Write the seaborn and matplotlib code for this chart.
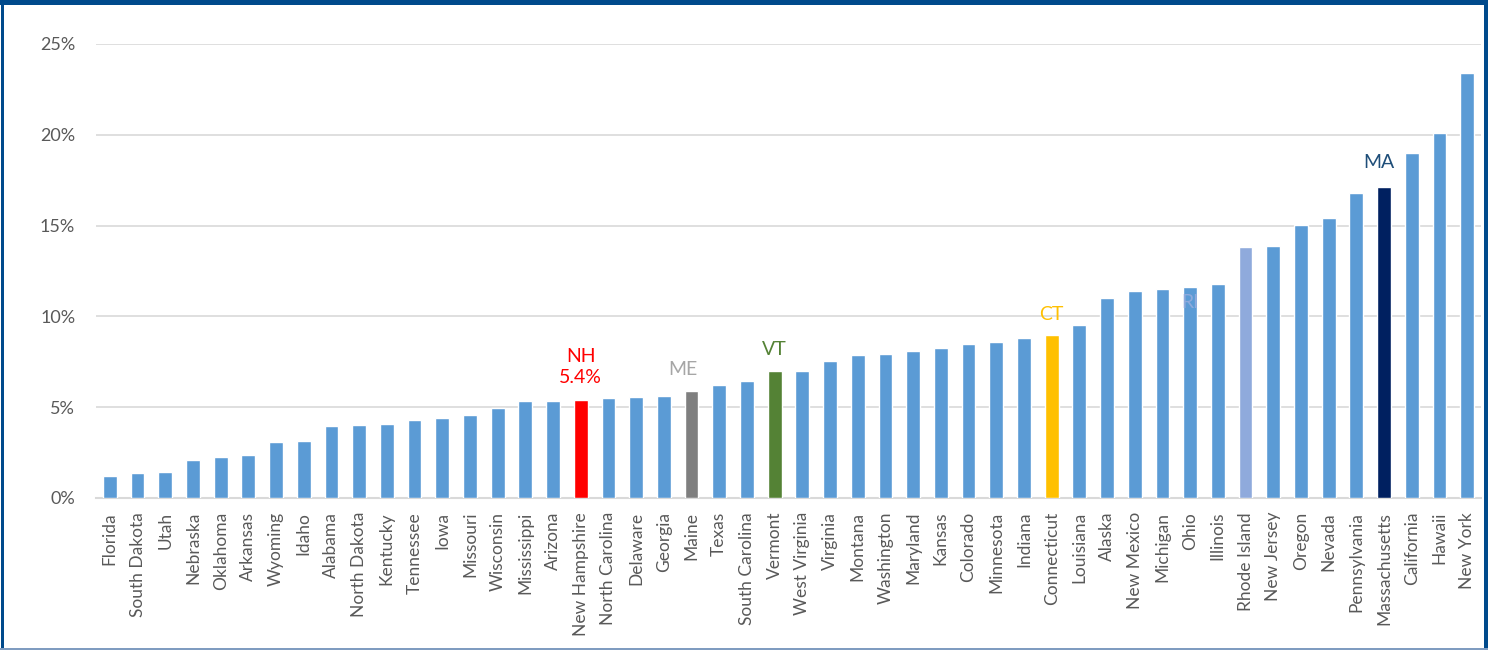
import matplotlib
matplotlib.use("Agg")
import matplotlib.pyplot as plt
import seaborn as sns
import pandas as pd
from matplotlib.patches import Rectangle
from matplotlib.ticker import FuncFormatter

states = ["Florida", "South Dakota", "Utah", "Nebraska", "Oklahoma", "Arkansas", "Wyoming",
          "Idaho", "Alabama", "North Dakota", "Kentucky", "Tennessee", "Iowa", "Missouri",
          "Wisconsin", "Mississippi", "Arizona", "New Hampshire", "North Carolina", "Delaware",
          "Georgia", "Maine", "Texas", "South Carolina", "Vermont", "West Virginia", "Virginia",
          "Montana", "Washington", "Maryland", "Kansas", "Colorado", "Minnesota", "Indiana",
          "Connecticut", "Louisiana", "Alaska", "New Mexico", "Michigan", "Ohio", "Illinois",
          "Rhode Island", "New Jersey", "Oregon", "Nevada", "Pennsylvania", "Massachusetts",
          "California", "Hawaii", "New York"]
values = [1.2, 1.4, 1.45, 2.1, 2.25, 2.35, 3.1, 3.15, 3.95, 4.0, 4.05, 4.3, 4.4, 4.55,
          4.95, 5.35, 5.35, 5.4, 5.5, 5.55, 5.6, 5.9, 6.2, 6.45, 7.0, 7.0, 7.55,
          7.9, 7.95, 8.1, 8.25, 8.5, 8.6, 8.8, 8.95, 9.5, 11.0, 11.4, 11.5, 11.6, 11.8,
          13.8, 13.9, 15.05, 15.4, 16.8, 17.1, 19.0, 20.1, 23.4]

highlight = {"New Hampshire": "#ff0000", "Maine": "#7f7f7f", "Vermont": "#548235",
             "Connecticut": "#ffc000", "Rhode Island": "#8faadc", "Massachusetts": "#002060"}
# state label, text, colour, x offset (bars), y centre (%)
labels = [("New Hampshire", "NH\n5.4%", "#ff0000", 0, 7.2),
          ("Maine", "ME", "#a6a6a6", -0.3, 7.1),
          ("Vermont", "VT", "#548235", 0, 8.2),
          ("Connecticut", "CT", "#ffc000", 0, 10.1),
          ("Rhode Island", "RI", "#8faadc", -2.0, 10.75),
          ("Massachusetts", "MA", "#1f4e79", -0.2, 18.5)]

df = pd.DataFrame({"state": states, "value": values})
colors = [highlight.get(s, "#5b9bd5") for s in states]

sns.set_style("white")
plt.rcParams["font.family"] = ["Lato", "DejaVu Sans"]

fig = plt.figure(figsize=(14.96, 6.5), dpi=100)
ax = fig.add_axes([96 / 1496, 1 - 498 / 650, (1481 - 96) / 1496, (498 - 44) / 650])

sns.barplot(data=df, x="state", y="value", hue="state", palette=colors, legend=False,
            width=0.5, saturation=1, ax=ax, zorder=3)

ax.set_xlim(-0.5, len(states) - 0.5)
ax.set_ylim(0, 25)
ax.set_yticks([0, 5, 10, 15, 20, 25])
ax.yaxis.set_major_formatter(FuncFormatter(lambda v, p: f"{v:.0f}%"))
ax.grid(axis="y", color="#d9d9d9", linewidth=1.2, zorder=0)
ax.set_xlabel("")
ax.set_ylabel("")
for side in ["top", "right", "left"]:
    ax.spines[side].set_visible(False)
ax.spines["bottom"].set_color("#d9d9d9")
ax.spines["bottom"].set_linewidth(1.5)
ax.tick_params(axis="x", labelrotation=90, labelsize=12.5, colors="#595959", length=0, pad=10)
ax.tick_params(axis="y", labelsize=13, colors="#595959", length=0, pad=15)

for state, txt, col, dx, y in labels:
    i = states.index(state)
    ax.text(i + dx, y, txt, color=col, fontsize=14, ha="center", va="center",
            linespacing=1.3, zorder=5)

# frame around the chart
fig.add_artist(Rectangle((0, 645 / 650), 1488 / 1496, 5 / 650, transform=fig.transFigure,
                         color="#004a8c", lw=0))
fig.add_artist(Rectangle((1 / 1496, 0), 3 / 1496, 1, transform=fig.transFigure,
                         color="#004a8c", lw=0))
fig.add_artist(Rectangle((1484 / 1496, 0), 4 / 1496, 1, transform=fig.transFigure,
                         color="#004a8c", lw=0))
fig.add_artist(Rectangle((0, 0), 1488 / 1496, 2 / 650, transform=fig.transFigure,
                         color="#7f9cc0", lw=0))

fig.savefig("out.png", dpi=100)
